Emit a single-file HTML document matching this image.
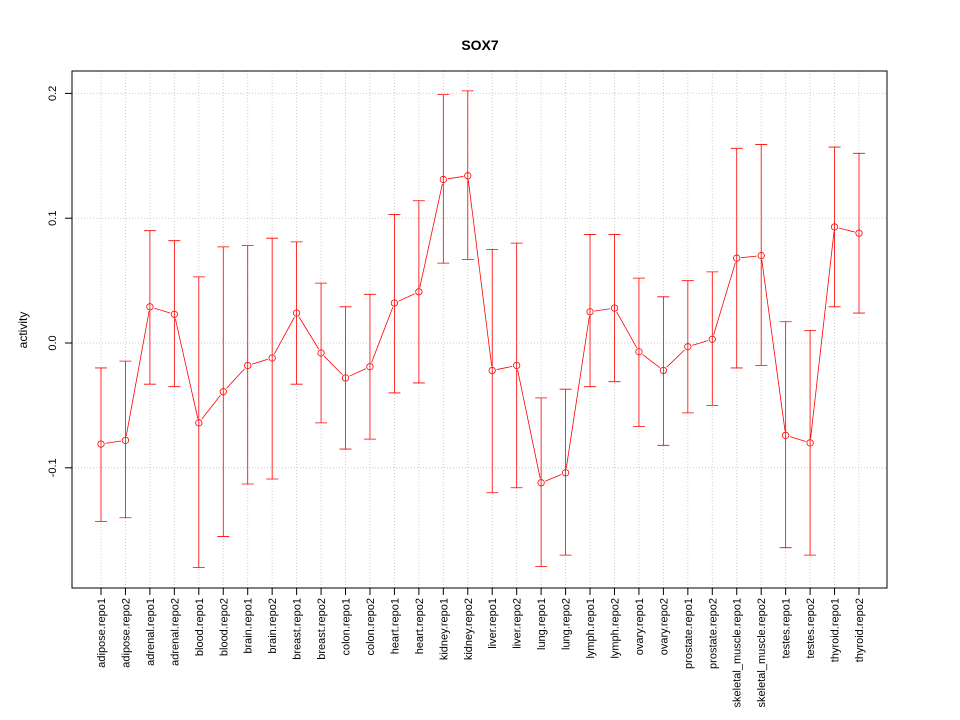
<!DOCTYPE html>
<html><head><meta charset="utf-8"><style>
body{margin:0;background:#fff;}
svg{display:block;font-family:"Liberation Sans",sans-serif;}
</style></head><body>
<svg id="chart" width="960" height="720">
<rect x="0" y="0" width="960" height="720" fill="#fff"/>
<text x="480" y="50" text-anchor="middle" font-size="14" font-weight="bold">SOX7</text>
<text transform="translate(27,330) rotate(-90)" text-anchor="middle" font-size="12">activity</text>
<g id="grid"></g><g id="marks"></g><g id="axes"></g>
<rect x="72" y="71" width="815" height="517" fill="none" stroke="#000"/>
</svg>
<script>
const categories=["adipose.repo1","adipose.repo2","adrenal.repo1","adrenal.repo2","blood.repo1","blood.repo2","brain.repo1","brain.repo2","breast.repo1","breast.repo2","colon.repo1","colon.repo2","heart.repo1","heart.repo2","kidney.repo1","kidney.repo2","liver.repo1","liver.repo2","lung.repo1","lung.repo2","lymph.repo1","lymph.repo2","ovary.repo1","ovary.repo2","prostate.repo1","prostate.repo2","skeletal_muscle.repo1","skeletal_muscle.repo2","testes.repo1","testes.repo2","thyroid.repo1","thyroid.repo2"];
const values=[-0.081,-0.078,0.029,0.023,-0.064,-0.039,-0.018,-0.012,0.024,-0.008,-0.028,-0.019,0.032,0.041,0.131,0.134,-0.022,-0.018,-0.112,-0.104,0.025,0.028,-0.007,-0.022,-0.003,0.003,0.068,0.070,-0.074,-0.080,0.093,0.088];
const upper=[-0.020,-0.0145,0.090,0.082,0.053,0.077,0.078,0.084,0.081,0.048,0.029,0.039,0.103,0.114,0.199,0.202,0.075,0.080,-0.044,-0.037,0.087,0.087,0.052,0.037,0.050,0.057,0.156,0.159,0.017,0.010,0.157,0.152];
const lower=[-0.143,-0.140,-0.033,-0.035,-0.180,-0.155,-0.113,-0.109,-0.033,-0.064,-0.085,-0.077,-0.040,-0.032,0.064,0.067,-0.120,-0.116,-0.179,-0.170,-0.035,-0.031,-0.067,-0.082,-0.056,-0.050,-0.020,-0.018,-0.164,-0.170,0.029,0.024];
const yTicks=[-0.1,0.0,0.1,0.2];
const yTickLabels=["-0.1","0.0","0.1","0.2"];
const NS="http://www.w3.org/2000/svg";
const x=i=>101+i*(859-101)/(categories.length-1);
const y=v=>343-v*1248;
function mk(p,t,a){const e=document.createElementNS(NS,t);for(const k in a)e.setAttribute(k,a[k]);p.appendChild(e);return e;}
const grid=document.getElementById('grid'),marks=document.getElementById('marks'),axes=document.getElementById('axes');
categories.forEach((c,i)=>{
 const g=mk(grid,'line',{x1:x(i),x2:x(i),y1:71,y2:588,stroke:'#ccc','stroke-dasharray':'1,2'});
 
 
 const t=mk(axes,'line',{x1:x(i),x2:x(i),y1:588,y2:595,stroke:'#000'});
 
 
 const l=mk(axes,'text',{transform:`translate(${x(i)+4},598) rotate(-90)`,'text-anchor':'end','font-size':'11'});
 l.textContent=c;
 
 
});
yTicks.forEach((v,i)=>{
 const g=mk(grid,'line',{x1:72,x2:887,y1:y(v),y2:y(v),stroke:'#ccc','stroke-dasharray':'1,2'});
 
 
 const t=mk(axes,'line',{x1:65,x2:72,y1:y(v),y2:y(v),stroke:'#000'});
 
 
 const l=mk(axes,'text',{transform:`translate(56,${y(v)}) rotate(-90)`,'text-anchor':'middle','font-size':'11'});
 l.textContent=yTickLabels[i];
 
 
});
for(let i=0;i<values.length-1;i++){
 const x1=x(i),y1=y(values[i]),x2=x(i+1),y2=y(values[i+1]);
 const d=Math.hypot(x2-x1,y2-y1),g=4.5;
 if(d<=2*g)continue;
 const ux=(x2-x1)/d,uy=(y2-y1)/d;
 const s=mk(marks,'line',{x1:x1+ux*g,y1:y1+uy*g,x2:x2-ux*g,y2:y2-uy*g,stroke:'#f00','stroke-width':0.8});
 
 
}
categories.forEach((c,i)=>{
 const e=mk(marks,'path',{d:`M${x(i)},${y(upper[i])}V${y(lower[i])}M${x(i)-6},${y(upper[i])}H${x(i)+6}M${x(i)-6},${y(lower[i])}H${x(i)+6}`,stroke:'#f00',fill:'none','stroke-width':0.8});
 
 
 const p=mk(marks,'circle',{cx:x(i),cy:y(values[i]),r:3.2,fill:'none',stroke:'#f00','stroke-width':0.8});
 
 
});
</script>
</body></html>
